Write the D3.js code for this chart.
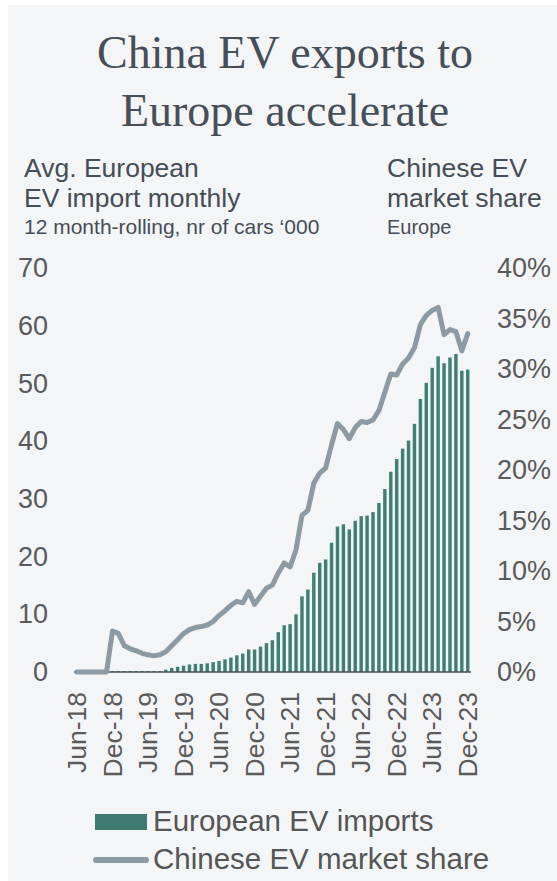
<!DOCTYPE html>
<html>
<head>
<meta charset="utf-8">
<script src="https://cdn.jsdelivr.net/npm/d3@7"></script>
<style>
  body { margin: 0; background: #fff; }
  svg { display: block; }
  .tick text { fill: #5a5a5a; font-family: "Liberation Sans", Arial, sans-serif; }
</style>
</head>
<body>
<div id="chart"></div>
<script>
// month categories, Jun-18 .. Dec-23
var months = d3.timeMonth.range(new Date(2018, 5, 1), new Date(2024, 0, 1)).map(d3.timeFormat('%b-%y'));

// avg. monthly EV imports, 12 month rolling, '000 cars
var imports = [
  0, 0, 0, 0, 0, 0,
  0.15, 0.15, 0.15, 0.15, 0.15, 0.15, 0.15, 0.15, 0.15,
  0.4, 0.7, 0.9, 1.1, 1.3, 1.4, 1.4, 1.5, 1.7, 1.9,
  2.2, 2.5, 2.9, 3.2, 3.9, 3.9, 4.4, 5.0, 5.5, 6.9,
  8.1, 8.3, 10.0, 13.1, 14.3, 17.2, 18.9, 19.5, 22.4, 25.2,
  25.6, 24.7, 26.2, 27.0, 27.1, 27.7, 29.3, 31.7, 34.7, 36.9,
  38.7, 40.1, 43.0, 47.3, 50.1, 52.7, 54.7, 53.5, 54.5, 55.1,
  52.2, 52.4
];

// chinese EV market share in Europe, %
var share = [
  0, 0, 0, 0, 0, 0,
  4.06, 3.8, 2.6, 2.3, 2.1, 1.85, 1.7, 1.6, 1.7,
  2.0, 2.6, 3.2, 3.8, 4.2, 4.4, 4.5, 4.65, 5.0, 5.6,
  6.07, 6.6, 7.0, 6.85, 7.95, 6.7, 7.5, 8.3, 8.6, 9.8,
  10.8, 10.4, 12.1, 15.5, 16.0, 18.7, 19.7, 20.2, 22.5, 24.6,
  24.0, 23.1, 24.2, 24.8, 24.7, 24.95, 25.9, 27.7, 29.5, 29.4,
  30.5, 31.1, 32.1, 34.4, 35.3, 35.8, 36.1, 33.4, 33.9, 33.7,
  31.8, 33.5
];

var leftTicks = [0, 10, 20, 30, 40, 50, 60, 70];
var rightTicks = [0, 5, 10, 15, 20, 25, 30, 35, 40];

var W = 557, H = 881;
var sans = '"Liberation Sans", Arial, sans-serif';

var svg = d3.select('#chart').append('svg')
  .attr('width', W)
  .attr('height', H);

// panel background, white strip on top and left
svg.append('rect')
  .attr('x', 8).attr('y', 5)
  .attr('width', W - 8).attr('height', H - 5)
  .attr('fill', '#f4f5f7');

// title
var title = svg.append('text')
  .attr('text-anchor', 'middle')
  .attr('font-family', '"Liberation Serif", "Times New Roman", serif')
  .attr('font-size', 46)
  .attr('fill', '#464e57');
title.append('tspan').attr('x', 285).attr('y', 68).text('China EV exports to');
title.append('tspan').attr('x', 285).attr('y', 126).text('Europe accelerate');

// axis headers
function header(x, lines) {
  lines.forEach(function(l) {
    svg.append('text')
      .attr('x', x).attr('y', l.y)
      .attr('font-family', sans)
      .attr('font-size', l.size)
      .attr('fill', '#454d56')
      .text(l.text);
  });
}
header(24, [
  {text: 'Avg. European', y: 177, size: 26.5},
  {text: 'EV import monthly', y: 207, size: 26.5},
  {text: '12 month-rolling, nr of cars \u2018000', y: 234, size: 21}
]);
header(387, [
  {text: 'Chinese EV', y: 177, size: 26.5},
  {text: 'market share', y: 207, size: 26.5},
  {text: 'Europe', y: 234, size: 20}
]);

// scales
var x = d3.scaleBand()
  .domain(months)
  .range([74, 470.7])
  .paddingInner(0.42)
  .paddingOuter(0.21);

var y = d3.scaleLinear().domain([0, 70]).range([672, 268]);
var y2 = d3.scaleLinear().domain([0, 40]).range([672, 268]);

// bars
svg.append('g').selectAll('rect')
  .data(imports)
  .enter().append('rect')
    .attr('x', function(d, i) { return x(months[i]); })
    .attr('width', x.bandwidth())
    .attr('y', function(d) { return y(d); })
    .attr('height', function(d) { return y(0) - y(d); })
    .attr('fill', '#3f7f74');

// baseline
svg.append('line')
  .attr('x1', 74).attr('x2', 471)
  .attr('y1', y(0)).attr('y2', y(0))
  .attr('stroke', '#4a4f55')
  .attr('stroke-width', 1.5);

// share line
var valueline = d3.line()
  .x(function(d, i) { return x(months[i]) + x.bandwidth() / 2; })
  .y(function(d) { return y2(d); });

svg.append('path')
  .datum(share)
  .attr('d', valueline)
  .attr('fill', 'none')
  .attr('stroke', '#8c9aa3')
  .attr('stroke-width', 5)
  .attr('stroke-linejoin', 'round')
  .attr('stroke-linecap', 'round');

// left axis
svg.append('g')
  .attr('transform', 'translate(48,0)')
  .call(d3.axisLeft(y).tickValues(leftTicks).tickSize(0).tickPadding(0))
  .call(function(g) { g.select('.domain').remove(); })
  .selectAll('text')
    .attr('font-size', 27)
    .attr('font-family', sans);

// right axis
svg.append('g')
  .attr('transform', 'translate(497,0)')
  .call(d3.axisRight(y2).tickValues(rightTicks).tickSize(0).tickPadding(0)
    .tickFormat(function(d) { return d + '%'; }))
  .call(function(g) { g.select('.domain').remove(); })
  .selectAll('text')
    .attr('font-size', 27)
    .attr('font-family', sans);

// bottom axis, every 6 months
svg.append('g')
  .attr('transform', 'translate(0,' + y(0) + ')')
  .call(d3.axisBottom(x)
    .tickValues(months.filter(function(m, i) { return i % 6 === 0; }))
    .tickSize(0))
  .call(function(g) { g.select('.domain').remove(); })
  .selectAll('text')
    .attr('font-size', 26.5)
    .attr('font-family', sans)
    .attr('transform', 'rotate(-90)')
    .attr('x', -20)
    .attr('y', 0)
    .attr('dy', '0.35em')
    .style('text-anchor', 'end');

// legend
var legend = svg.append('g');
legend.append('rect')
  .attr('x', 95).attr('y', 814)
  .attr('width', 52).attr('height', 16)
  .attr('fill', '#3f7b71');
legend.append('line')
  .attr('x1', 96).attr('x2', 146)
  .attr('y1', 860).attr('y2', 860)
  .attr('stroke', '#8c9aa3')
  .attr('stroke-width', 6)
  .attr('stroke-linecap', 'round');
legend.append('text')
  .attr('x', 153).attr('y', 831)
  .attr('font-family', sans).attr('font-size', 29.5)
  .attr('fill', '#555')
  .text('European EV imports');
legend.append('text')
  .attr('x', 153).attr('y', 869)
  .attr('font-family', sans).attr('font-size', 29.5)
  .attr('fill', '#555')
  .text('Chinese EV market share');
</script>
</body>
</html>
